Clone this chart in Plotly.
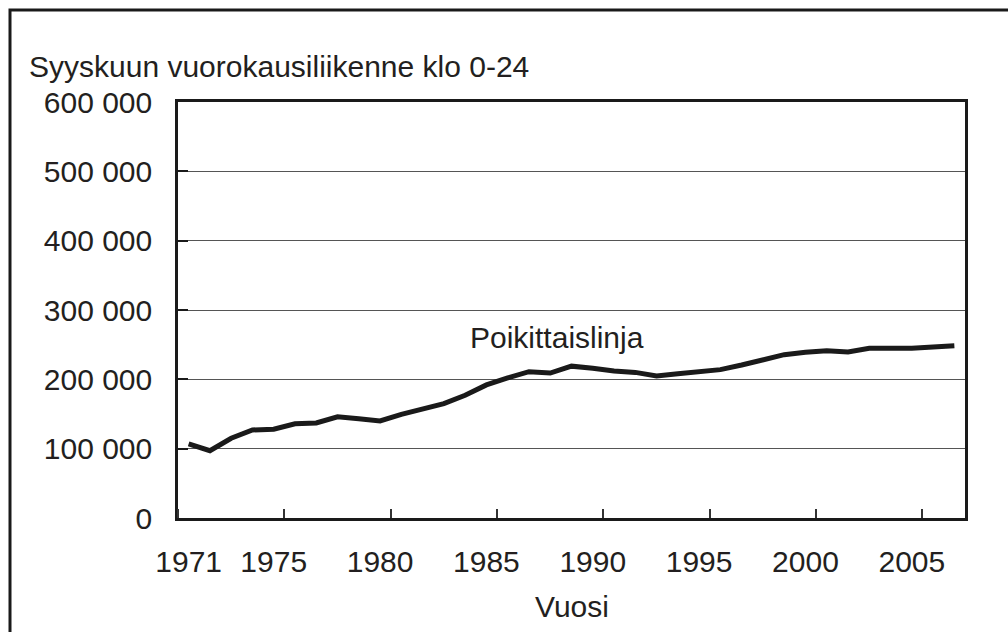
import plotly.graph_objects as go

years = list(range(1971, 2008))
traffic = [107000, 97000, 115000, 127000, 128000, 136000, 137000, 146000, 143000, 140000,
           149500, 158000, 165000, 177000, 192000, 202000, 211000, 209000, 219000, 216000,
           212000, 210000, 205000, 208000, 211000, 214000, 220600, 229000, 235600, 239000,
           241300, 239500, 244700, 244700, 244700, 246600, 248500]

x_tick_years = [1971, 1975, 1980, 1985, 1990, 1995, 2000, 2005]
y_tick_vals = [0, 100000, 200000, 300000, 400000, 500000, 600000]
y_tick_text = ["0", "100 000", "200 000", "300 000", "400 000", "500 000", "600 000"]

series_name = "Poikittaislinja"
y_title = "Syyskuun vuorokausiliikenne klo 0-24"
x_title = "Vuosi"

FONT = "Liberation Sans, Arial, sans-serif"
INK = "#231f20"

W, H = 1008, 632
L, R, T, B = 178, 43, 102, 114
pw, ph = W - L - R, H - T - B

def px_x(px):
    return (px - L) / pw

def px_y(py):
    return (H - B - py) / ph

fig = go.Figure()
fig.add_trace(go.Scatter(
    x=years, y=traffic, mode="lines",
    line=dict(color="#1a1a1a", width=5),
    showlegend=False, hoverinfo="skip",
))

fig.update_layout(
    width=W, height=H,
    margin=dict(l=L, r=R, t=T, b=B),
    paper_bgcolor="white", plot_bgcolor="white",
    font=dict(family=FONT, size=30, color=INK),
    showlegend=False,
)

fig.update_xaxes(
    range=[years[0] - 0.5, years[-1] + 0.5],
    tickmode="array", tickvals=x_tick_years, ticktext=[str(v) for v in x_tick_years],
    ticks="", showgrid=False, zeroline=False,
    showline=True, linecolor="#1a1a1a", linewidth=2.5, mirror=True,
    tickfont=dict(family=FONT, size=30, color=INK),
    ticklabelstandoff=15,
    minor=dict(tick0=years[0] - 0.5, dtick=5, ticks="inside", ticklen=9,
               tickwidth=1.5, tickcolor="#333333", showgrid=False),
)

fig.update_yaxes(
    range=[0, 600000],
    tickmode="array", tickvals=y_tick_vals, ticktext=y_tick_text,
    ticks="inside", ticklen=10, tickwidth=2, tickcolor="#1a1a1a",
    showgrid=True, gridcolor="#555555", gridwidth=1, zeroline=False,
    showline=True, linecolor="#1a1a1a", linewidth=2.5, mirror=True,
    tickfont=dict(family=FONT, size=30, color=INK),
    ticklabelstandoff=17,
)

# y-axis title (horizontal, above the plot)
fig.add_annotation(
    text=y_title, xref="paper", yref="paper",
    x=px_x(27), y=px_y(66), xanchor="left", yanchor="middle",
    showarrow=False, font=dict(family=FONT, size=30, color=INK),
)

# x-axis title
fig.add_annotation(
    text=x_title, xref="paper", yref="paper",
    x=0.5, y=px_y(606), xanchor="center", yanchor="middle",
    showarrow=False, font=dict(family=FONT, size=30, color=INK),
)

# series label
fig.add_annotation(
    text=series_name, x=1988.3, y=261000, xanchor="center", yanchor="middle",
    showarrow=False, font=dict(family=FONT, size=30, color=INK),
)

# outer chart border (left and top visible)
fig.add_shape(
    type="rect", xref="paper", yref="paper",
    x0=px_x(10), y0=px_y(H + 20), x1=px_x(W + 20), y1=px_y(10),
    line=dict(color="#1a1a1a", width=3), fillcolor="rgba(0,0,0,0)", layer="below",
)

fig.write_html(
    "out.html",
    config={"displayModeBar": False},
    post_script="document.body.style.margin='0';document.body.style.overflow='hidden';",
)
